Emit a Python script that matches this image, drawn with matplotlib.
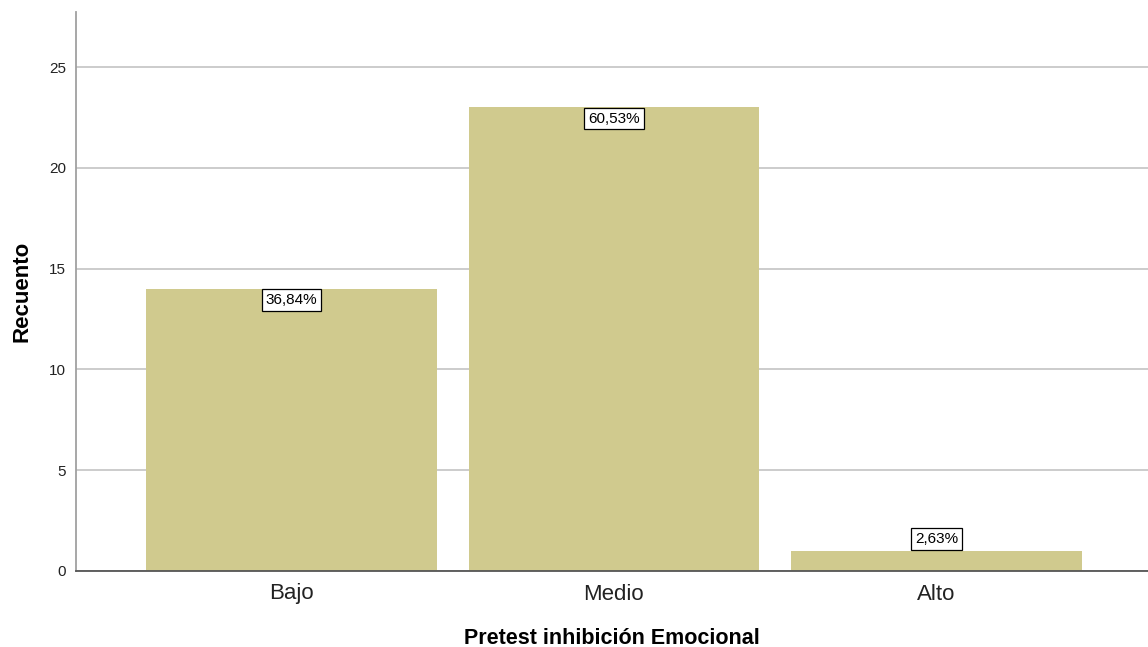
import matplotlib
matplotlib.use("Agg")
import matplotlib.pyplot as plt

categories = ["Bajo", "Medio", "Alto"]
counts = [14, 23, 1]
percent_labels = ["36,84%", "60,53%", "2,63%"]
y_ticks = [0, 5, 10, 15, 20, 25]

plt.rcParams["font.family"] = ["Liberation Sans", "DejaVu Sans"]

fig = plt.figure(figsize=(11.48, 6.47), dpi=100)
ax = fig.add_axes([76 / 1148, 1 - 571 / 647, 1 - 76 / 1148, (571 - 12) / 647])

bar_color = "#D0CA8E"
x = list(range(len(categories)))
ax.bar(x, counts, width=0.9, color=bar_color, zorder=3)

ax.set_xlim(-0.668, 2.656)
ax.set_ylim(0, 27.73)
ax.set_yticks(y_ticks)
ax.set_yticklabels([str(t) for t in y_ticks], fontsize=11, color="#222222")
ax.set_xticks(x)
ax.set_xticklabels(categories, fontsize=16, color="#222222")
ax.tick_params(axis="y", length=0, pad=7)
ax.tick_params(axis="x", length=0, pad=9)

ax.yaxis.grid(True, color="#C4C4C4", linewidth=1.2, zorder=0)
ax.set_axisbelow(True)

for side in ("top", "right"):
    ax.spines[side].set_visible(False)
ax.spines["left"].set_color("#A0A0A0")
ax.spines["left"].set_linewidth(1.3)
ax.spines["bottom"].set_color("#555555")
ax.spines["bottom"].set_linewidth(1.3)
ax.spines["bottom"].set_zorder(4)

box = dict(boxstyle="square,pad=0.25", facecolor="white", edgecolor="black", linewidth=0.9)
for xi, c, lab in zip(x, counts, percent_labels):
    if c >= 3:
        ax.annotate(lab, (xi, c), xytext=(0, -3), textcoords="offset points",
                    ha="center", va="top", fontsize=11, bbox=box, zorder=5)
    else:
        ax.annotate(lab, (xi, c), xytext=(0, 3.5), textcoords="offset points",
                    ha="center", va="bottom", fontsize=11, bbox=box, zorder=5)

ax.set_ylabel("Recuento", fontsize=16, fontweight="bold", labelpad=12)
ax.set_xlabel("Pretest inhibición Emocional", fontsize=15.5, fontweight="bold", labelpad=17)

fig.savefig("out.png", dpi=100, facecolor="white")
